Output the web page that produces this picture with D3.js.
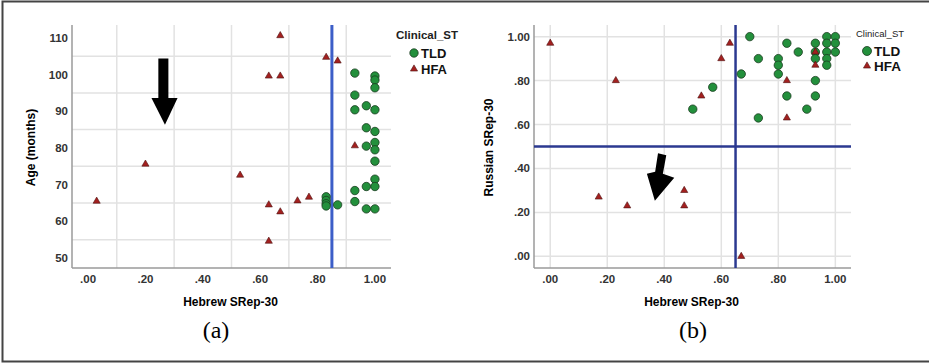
<!DOCTYPE html>
<html>
<head>
<meta charset="utf-8">
<script src="https://cdn.jsdelivr.net/npm/d3@7"></script>
<style>
  body { margin: 0; background: #fff; }
  svg { display: block; font-family: "Liberation Sans", Arial, sans-serif; }
</style>
</head>
<body>
<svg id="chart" width="929" height="363"></svg>
<script>
// panel (a): Hebrew SRep-30 vs age, panel (b): Hebrew vs Russian SRep-30
var xTicks = [0, 0.2, 0.4, 0.6, 0.8, 1.0];
var ageTicks = [50, 60, 70, 80, 90, 100, 110];
var ageGrid = [55, 65, 75, 85, 95, 105];
var xGridA = [0.1, 0.3, 0.5, 0.7, 0.9];
var rusTicks = [0, 0.2, 0.4, 0.6, 0.8, 1.0];
var groups = ["TLD", "HFA"];

var tldA = [[0.83,66.7],[0.83,65.7],[0.83,64.8],[0.83,64.2],[0.87,64.5],
  [0.93,100.4],[0.93,94.4],[0.93,90.4],[0.93,68.4],[0.93,65.4],
  [0.97,91.5],[0.97,85.5],[0.97,80.5],[0.97,69.5],[0.97,63.4],
  [1,99.6],[1,98.5],[1,96.4],[1,90.4],[1,84.5],[1,81.5],[1,79.5],[1,76.4],[1,71.5],[1,69.5],[1,63.4]];
var hfaA = [[0.03,65.5],[0.20,75.6],[0.53,72.6],[0.63,64.5],[0.67,62.6],[0.63,54.6],
  [0.63,99.6],[0.67,99.6],[0.67,110.6],[0.73,65.6],[0.77,66.6],[0.83,104.7],[0.87,103.7],[0.93,80.6]];

var tldB = [[0.50,0.67],[0.57,0.77],[0.67,0.83],[0.70,1.00],[0.73,0.90],[0.73,0.63],
  [0.80,0.90],[0.80,0.87],[0.80,0.83],[0.83,0.97],[0.83,0.73],[0.87,0.93],[0.90,0.67],
  [0.93,0.97],[0.93,0.93],[0.93,0.90],[0.93,0.80],[0.93,0.73],
  [0.97,1.00],[0.97,0.97],[0.97,0.93],[0.97,0.90],[0.97,0.87],
  [1,1.00],[1,0.97],[1,0.93]];
var hfaB = [[0,0.97],[0.23,0.80],[0.17,0.27],[0.27,0.23],[0.47,0.30],[0.47,0.23],
  [0.53,0.73],[0.60,0.90],[0.63,0.97],[0.67,0.00],[0.83,0.80],[0.83,0.63],[0.93,0.93],[0.93,0.87]];

var cutA = 0.85;          // vertical reference line (a)
var cutBx = 0.65, cutBy = 0.5;

var GREEN = "#23903c", GREEN_STROKE = "#1b3b1f";
var RED = "#a3201f", RED_STROKE = "#4d1212";
var GRID = "#e2e2e2", AXIS = "#9a9a9a";

var svg = d3.select("#chart");

// outer frame
svg.append("path")
  .attr("d", "M929,1.5 H2.5 V361.5 H929")
  .attr("fill", "none").attr("stroke", "#444").attr("stroke-width", 2);

var fmt = function(v) { return d3.format(".2f")(v).replace(/^0/, ""); };
var tri = d3.symbol().type(d3.symbolTriangle).size(22);

function panel(o) {
  var g = svg.append("g");
  var x = o.x, y = o.y;
  var x0 = x.range()[0], x1 = x.range()[1];
  var y0 = y.range()[0], y1 = y.range()[1];

  // gridlines
  g.selectAll(".gx").data(o.xGrid).enter().append("line")
    .attr("x1", d => x(d)).attr("x2", d => x(d)).attr("y1", y0).attr("y2", y1)
    .attr("stroke", GRID).attr("stroke-width", 1.5);
  g.selectAll(".gy").data(o.yGrid).enter().append("line")
    .attr("y1", d => y(d)).attr("y2", d => y(d)).attr("x1", x0).attr("x2", x1)
    .attr("stroke", GRID).attr("stroke-width", 1.5);

  // axes lines
  g.append("line").attr("x1", x0).attr("x2", x1).attr("y1", y0).attr("y2", y0)
    .attr("stroke", AXIS).attr("stroke-width", 1.5);
  g.append("line").attr("x1", x0).attr("x2", x0).attr("y1", y0).attr("y2", y1)
    .attr("stroke", AXIS).attr("stroke-width", 1.5);

  // tick labels
  g.selectAll(".tx").data(xTicks).enter().append("text")
    .attr("x", d => x(d)).attr("y", y0 + 15)
    .attr("text-anchor", "middle").attr("font-size", 11.5).attr("font-weight", "bold")
    .attr("fill", "#333").text(fmt);
  g.selectAll(".ty").data(o.yTicks).enter().append("text")
    .attr("x", x0 - 4).attr("y", d => y(d) + 4)
    .attr("text-anchor", "end").attr("font-size", 11.5).attr("font-weight", "bold")
    .attr("fill", "#333").text(o.yFmt);

  // titles
  g.append("text").attr("x", (x0 + x1) / 2 - 1).attr("y", y0 + 38)
    .attr("text-anchor", "middle").attr("font-size", 12).attr("font-weight", "bold")
    .text("Hebrew SRep-30");
  g.append("text").attr("transform", "translate(" + (x0 - o.titleOff) + "," + ((y0 + y1) / 2 + 1) + ") rotate(-90)")
    .attr("text-anchor", "middle").attr("font-size", 12).attr("font-weight", "bold")
    .text(o.yTitle);
  g.append("text").attr("x", o.labelX).attr("y", 338)
    .attr("text-anchor", "middle").attr("font-size", 24)
    .attr("font-family", "'Liberation Serif', 'DejaVu Serif', serif")
    .text(o.label);

  // reference lines
  o.refs(g);

  // points
  g.selectAll(".tld").data(o.tld).enter().append("circle")
    .attr("cx", d => x(d[0])).attr("cy", d => y(d[1])).attr("r", 4.2)
    .attr("fill", GREEN).attr("stroke", GREEN_STROKE).attr("stroke-width", 0.8);
  g.selectAll(".hfa").data(o.hfa).enter().append("path")
    .attr("d", tri)
    .attr("transform", d => "translate(" + x(d[0]) + "," + y(d[1]) + ")")
    .attr("fill", RED).attr("stroke", RED_STROKE).attr("stroke-width", 0.6);

  // arrow annotation (in data units)
  var a = o.arrow;
  var p = d3.path();
  p.moveTo(x(a[0][0]), y(a[0][1]));
  a.slice(1).forEach(function(q) { p.lineTo(x(q[0]), y(q[1])); });
  p.closePath();
  g.append("path").attr("d", p.toString()).attr("fill", "#000");

  // legend
  var L = o.legend;
  g.append("text").attr("x", L.x).attr("y", L.y).attr("font-size", L.titleSize)
    .attr("font-weight", L.titleWeight).attr("fill", "#222").text("Clinical_ST");
  groups.forEach(function(k, i) {
    var cy = L.y + L.dy0 + i * L.dy;
    if (k === "TLD") {
      g.append("circle").attr("cx", L.mx).attr("cy", cy).attr("r", L.r)
        .attr("fill", GREEN).attr("stroke", GREEN_STROKE).attr("stroke-width", 0.8);
    } else {
      g.append("path").attr("d", tri).attr("transform", "translate(" + L.mx + "," + cy + ")")
        .attr("fill", RED).attr("stroke", RED_STROKE).attr("stroke-width", 0.6);
    }
    g.append("text").attr("x", L.mx + L.gap).attr("y", cy + L.size * 0.38)
      .attr("font-size", L.size).attr("font-weight", "bold").attr("fill", "#111").text(k);
  });
}

var xA = d3.scaleLinear().domain([-0.056, 1.056]).range([72, 391]);
var yA = d3.scaleLinear().domain([47.3, 113.5]).range([268, 25]);
panel({
  x: xA, y: yA, xGrid: xGridA, yGrid: ageGrid, yTicks: ageTicks,
  yFmt: d3.format("d"), yTitle: "Age (months)", label: "(a)", labelX: 216, titleOff: 37,
  tld: tldA, hfa: hfaA,
  refs: function(g) {
    g.append("line").attr("x1", xA(cutA)).attr("x2", xA(cutA)).attr("y1", 268).attr("y2", 25)
      .attr("stroke", "#3c5ec8").attr("stroke-width", 3);
  },
  arrow: [[0.245,104.4],[0.28,104.4],[0.28,93.6],[0.312,93.6],[0.268,86.3],[0.221,93.6],[0.245,93.6]],
  legend: { x: 396, y: 39, titleSize: 11.5, titleWeight: "bold", mx: 414, dy0: 14, dy: 16, r: 4.2, gap: 7, size: 13 }
});

var xB = d3.scaleLinear().domain([-0.057, 1.055]).range([534, 851]);
var yB = d3.scaleLinear().domain([-0.053, 1.053]).range([268, 25]);
panel({
  x: xB, y: yB, xGrid: xTicks, yGrid: rusTicks, yTicks: rusTicks,
  yFmt: fmt, yTitle: "Russian SRep-30", label: "(b)", labelX: 693, titleOff: 41,
  tld: tldB, hfa: hfaB,
  refs: function(g) {
    g.append("line").attr("x1", xB(cutBx)).attr("x2", xB(cutBx)).attr("y1", 268).attr("y2", 25)
      .attr("stroke", "#2b3990").attr("stroke-width", 2.5);
    g.append("line").attr("x1", 534).attr("x2", 851).attr("y1", yB(cutBy)).attr("y2", yB(cutBy))
      .attr("stroke", "#2b3990").attr("stroke-width", 2.5);
  },
  arrow: [[0.378,0.469],[0.407,0.460],[0.395,0.376],[0.435,0.358],[0.367,0.253],[0.339,0.376],[0.368,0.385]],
  legend: { x: 856, y: 37, titleSize: 9.5, titleWeight: "normal", mx: 867, dy0: 14, dy: 15, r: 4.5, gap: 7, size: 13.5 }
});
</script>
</body>
</html>
